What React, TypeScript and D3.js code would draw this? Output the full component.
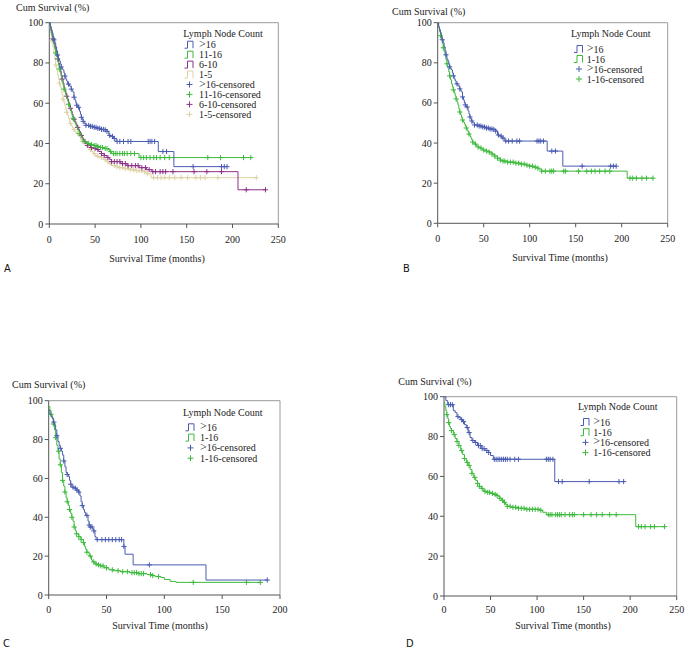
import React from "react";
import * as d3 from "d3";

type Pt = [number, number];

// ---------- Panel A (>16, 11-16, 6-10, 1-5) ----------
const aBlue: Pt[] = [[0,100],[1,98],[2,96.5],[3,95],[4,93],[5,91.5],[6,90],[7,88],[8,86],[9,84],[10,82],[11,81],[12,79.5],[13,78],[14,77],[15,76.5],[16,75],[17,73.5],[18,72],[19,71],[20,69.5],[22,68.5],[24,67],[25,66],[26,65.5],[27,63],[28,61.5],[29,60],[30,59],[31,58],[33,56],[34,54.5],[35,53],[36,52],[37,51],[38,50],[40,49],[44,48.5],[48,48],[52,47.5],[56,47],[60,46.8],[63,46],[65,44],[67,43.5],[70,42.5],[73,41],[119,36],[136,28.5]];
const aBlueCens = [5,9,13,17,21,24,27,30,32,35,37,40,43,45,47,49,51,53,55,57,59,61,63,66,69,71,74,77,81,86,89,108,110,112,115,124,128,157,188,191,194];
const aGreen: Pt[] = [[0,100],[1,97],[2,95],[3,93],[4,91],[5,89],[6,87],[7,85],[8,83],[9,81],[10,79],[11,77],[12,75],[13,73],[14,71],[15,69],[16,67],[17,65.5],[18,64],[19,62.5],[20,61],[21,59.5],[22,58],[23,56.5],[24,55],[25,53.5],[26,52.5],[27,51],[28,50],[29,49],[30,48],[31,47],[32,46],[33,45],[34,44],[35,43],[36,42],[37,41.5],[38,41],[40,40.5],[42,40],[45,39.5],[48,39],[52,38.5],[56,38],[60,37.5],[64,37],[66,36],[68,35],[98,33]];
const aGreenCens = [7,11,16,21,26,33,38,43,46,49,51,53,56,58,61,63,67,70,72,74,77,80,82,85,89,93,100,103,106,110,114,117,121,126,131,173,187,212,220];
const aPurple: Pt[] = [[0,100],[1,98],[2,96],[3,94],[4,92],[5,90],[6,88],[7,86],[8,84],[9,82],[10,80],[11,78],[12,76],[13,74],[14,72],[15,70],[16,68],[17,66.5],[18,65],[19,63.5],[20,62],[21,60.5],[22,59],[23,57.5],[24,56],[25,54.5],[26,53],[27,52],[28,51],[29,50],[30,49],[31,48],[32,47],[33,46],[34,45],[35,44],[36,43],[37,42],[38,41],[40,40],[42,39],[45,38],[48,37.5],[51,37],[54,36],[57,35],[60,34],[63,33],[66,32],[68,31],[78,30],[85,29],[98,28],[106,27],[112,26],[206,17]];
const aPurpleCens = [4,9,14,19,23,27,31,35,39,42,46,50,53,57,60,64,68,71,74,77,80,83,86,90,94,97,101,105,109,113,116,121,124,127,135,158,172,188,215,236];
const aTan: Pt[] = [[0,100],[1,97],[2,94],[3,91],[4,88],[5,85],[6,82],[7,79],[8,76.5],[9,74],[10,72],[11,70],[12,68],[13,66],[14,64],[15,62],[16,60.5],[17,59],[18,57],[19,55.5],[20,54],[21,52.5],[22,51],[23,50],[24,49],[25,48],[26,47.5],[27,47],[28,46],[29,45.5],[30,45],[32,43.5],[34,42],[36,41],[38,40],[40,39],[42,38],[44,37],[46,36],[48,35],[50,34],[53,33.5],[56,33],[59,32],[62,31],[65,30],[68,29],[72,28.5],[76,28],[82,27.5],[88,27],[95,26.5],[102,26],[107,25],[111,23]];
const aTanCens = [3,7,11,15,19,23,27,31,36,41,45,49,53,57,61,64,67,71,74,77,80,83,86,89,92,95,98,101,104,107,114,118,122,126,131,137,144,151,160,165,170,184,226];

// ---------- Panel B (>16 vs 1-16) ----------
const bBlue: Pt[] = aBlue;
const bBlueCens = aBlueCens;
const bGreen: Pt[] = [[0,100],[1,97.5],[2,95.5],[3,93.5],[4,91.5],[5,89.5],[6,87.5],[7,85.5],[8,83.5],[9,81.5],[10,79.5],[11,77.5],[12,75.5],[13,73.5],[14,71.5],[15,69.5],[16,68],[17,66.5],[18,65],[19,63.5],[20,62],[21,60.5],[22,59],[23,57],[24,55.5],[25,54],[26,52.5],[27,51.5],[28,50.5],[29,49.5],[30,48.5],[31,47.5],[32,46.5],[33,45.5],[34,44.5],[35,43.5],[36,42.5],[37,41.5],[38,40.5],[39,40],[40,39.5],[42,38.5],[44,38],[46,37.5],[48,37],[50,36.5],[53,36],[56,35.5],[59,34.5],[62,33.5],[65,32.5],[68,31.5],[70,31],[76,30.5],[84,30],[90,29.5],[96,29],[100,28.5],[104,28],[108,27.5],[110,27],[113,26],[206,22.5]];
const bGreenCens = [3,6,10,13,17,20,24,27,31,34,38,41,44,47,50,53,56,59,62,65,68,71,73,76,79,82,85,88,91,94,97,100,103,106,109,113,117,122,124,126,137,139,153,162,167,171,176,182,187,209,212,216,222,227,234];

// ---------- Panel C ----------
const cBlue: Pt[] = [[0,95],[1,93],[2,92],[3,91],[4,89],[5,87.5],[6,85],[7,82],[8,79],[9,77],[10,75.5],[11,74],[12,72],[13,69],[14,66],[15,63],[16,62],[17,61],[18,59],[19,57],[20,55.5],[22,55],[24,54],[26,53],[27,51],[28,48],[29,46],[30,44],[31,42.5],[32,41],[34,38],[35,36],[36,35],[38,34],[39,33],[40,30],[41,28.5],[65,25],[66,21],[73,15.5],[136,7.7]];
const cBlueCens = [4.5,7,10,13,16,19,21,23,24.5,26,29,33,35,36,37.5,39,42,46,49,52,55,58,61,63,65,87,189];
const cGreen: Pt[] = [[0,97],[1,95],[2,93],[3,91],[4,88],[5,85],[6,81],[7,77],[8,74],[9,70],[10,67],[11,63],[12,59],[13,56],[14,53],[15,50],[16,48],[17,46],[18,44],[19,42],[20,40],[21,38],[22,35],[23,33],[24,31.5],[26,30],[28,28.5],[30,27],[31,25],[32,23.5],[33,22],[35,20],[37,18],[38,17],[40,16],[42,15.5],[45,15],[48,14],[52,13],[56,12.5],[62,12],[70,11.5],[78,11],[85,10.5],[90,10],[92,9.5],[97,9],[100,8],[105,7],[110,6.5]];
const cGreenCens = [2,4,6,8.5,10,12,14,16,18,20,22,24,26,28,30,33,36,39,41,43,45,47,50,55,60,64,68,72,74,76,78,80,82,88,90,95,125,171,183];

// ---------- Panel D ----------
const dBlue: Pt[] = [[0,100],[2,98],[4,96],[10,93],[12,92],[14,90],[16,89.5],[18,88.5],[20,87.5],[22,86],[24,84.5],[26,82],[28,79.5],[30,78],[33,77],[36,75.5],[40,74],[44,73],[48,72],[50,70.5],[53,68.6],[119,57.4]];
const dBlueCens = [5,7,9,15,19,21,25,27,31,34,37,39,41,43,46,48,54,56,58,60,62,64,66,68,71,76,80,110,112,114,117,123,127,156,188,193];
const dGreen: Pt[] = [[0,97],[1,95],[2,93],[3,91],[4,89],[5,87],[6,85],[7,84],[8,83],[10,81],[12,79],[14,77.5],[16,75.5],[18,73],[20,71],[22,69],[24,67],[26,65.5],[28,63.5],[30,61.5],[32,59.5],[34,58],[36,56.5],[38,55],[40,54],[42,53],[44,52.5],[47,52],[50,51.5],[53,51],[56,50.5],[58,50],[60,49],[62,48],[64,47],[66,46],[68,45],[72,44.5],[80,44],[88,43.5],[104,43],[106,42],[110,40.8],[206,34.8]];
const dGreenCens = [3,5,8,11,14,16,19,22,25,27,30,33,36,38,41,44,47,49,52,55,57,60,63,65,68,71,74,77,80,83,86,89,92,95,98,101,104,112,114,116,120,122,124,126,130,135,138,140,150,158,164,170,178,185,209,212,216,222,226,237];

// ---------- Labels / ticks ----------
const xTicks250 = [0, 50, 100, 150, 200, 250];
const xTicks200 = [0, 50, 100, 150, 200];
const yTicks = [0, 20, 40, 60, 80, 100];
const legendTitle = "Lymph Node Count";
// [prefix symbol, rest]
const groupsA: [string, string][] = [[">", "16"], ["", "11-16"], ["", "6-10"], ["", "1-5"]];
const groupsTwo: [string, string][] = [[">", "16"], ["", "1-16"]];
const yTitle = "Cum Survival (%)";
const xTitle = "Survival Time (months)";

const BLUE = "#4a5cb0";
const GREEN = "#3dba3d";
const PURPLE = "#8c3288";
const TAN = "#ddd2a4";

const SERIF = "'Liberation Serif', 'Times New Roman', serif";

interface Series { curve: Pt[]; cens: number[]; color: string; }
interface PanelProps {
  left: number; top: number; right: number; bottom: number; xMax: number; xTicks: number[];
  series: Series[]; groups: [string, string][];
  yTitleX: number; yTitleY: number; xTitleX: number; xTitleY: number; tickLabelDy: number;
  letter: string; letterX: number; letterY: number;
  legX: number; legTitleY: number; legFirstY: number; legStep: number; legSymX: number; legTextX: number;
}

function survAt(curve: Pt[], t: number): number {
  let s = curve[0][1];
  for (const [tt, v] of curve) { if (tt <= t) s = v; else break; }
  return s;
}

function Plus({ x, y, color, r = 2.6 }: { x: number; y: number; color: string; r?: number }) {
  return <path d={`M${x - r},${y}H${x + r}M${x},${y - r}V${y + r}`} stroke={color} strokeWidth={1} fill="none" />;
}

function Label({ x, y, g, suffix }: { x: number; y: number; g: [string, string]; suffix: string }) {
  return (
    <text x={x} y={y} fontSize={10} fontFamily={SERIF} fill="#222">
      {g[0] ? <tspan fontSize={12} dy={-0.5}>{g[0]}</tspan> : null}
      <tspan dy={g[0] ? 0.5 : 0}>{g[1] + suffix}</tspan>
    </text>
  );
}

function Panel(p: PanelProps) {
  const x = d3.scaleLinear().domain([0, p.xMax]).range([p.left, p.right]);
  const y = d3.scaleLinear().domain([0, 100]).range([p.bottom, p.top]);
  const line = d3.line<Pt>().x(d => x(d[0])).y(d => y(d[1])).curve(d3.curveStepAfter);
  return (
    <g>
      <path d={`M${p.left},${p.top}H${p.right}V${p.bottom}`} stroke="#9a9a9a" strokeWidth={1} fill="none" />
      <path d={`M${p.left},${p.top}V${p.bottom}H${p.right}`} stroke="#555" strokeWidth={1} fill="none" />
      {yTicks.map(t => (
        <g key={"y" + t}>
          <line x1={p.left - 4} x2={p.left} y1={y(t)} y2={y(t)} stroke="#555" />
          <text x={p.left - 6} y={y(t) + 3.5} textAnchor="end" fontSize={10} fontFamily={SERIF} fill="#222">{t}</text>
        </g>
      ))}
      {p.xTicks.map(t => (
        <g key={"x" + t}>
          <line x1={x(t)} x2={x(t)} y1={p.bottom} y2={p.bottom + 4} stroke="#555" />
          <text x={x(t)} y={p.bottom + p.tickLabelDy} textAnchor="middle" fontSize={10} fontFamily={SERIF} fill="#222">{t}</text>
        </g>
      ))}
      <text x={p.yTitleX} y={p.yTitleY} fontSize={10} fontFamily={SERIF} fill="#222">{yTitle}</text>
      <text x={p.xTitleX} y={p.xTitleY} textAnchor="middle" fontSize={10} fontFamily={SERIF} fill="#222">{xTitle}</text>
      <text x={p.letterX} y={p.letterY} fontSize={11} fontFamily="'DejaVu Sans Condensed', 'Liberation Sans Narrow', 'DejaVu Sans', sans-serif" fontStretch="condensed" fill="#111">{p.letter}</text>
      {[...p.series].reverse().map((s, i) => {
        const lastT = Math.max(s.curve[s.curve.length - 1][0], d3.max(s.cens) ?? 0);
        const pts: Pt[] = [...s.curve, [lastT, s.curve[s.curve.length - 1][1]]];
        return (
          <g key={"s" + i}>
            <path d={line(pts) ?? ""} stroke={s.color} strokeWidth={1} fill="none" />
            {s.cens.map((c, j) => <Plus key={j} x={x(c)} y={y(survAt(s.curve, c))} color={s.color} />)}
          </g>
        );
      })}
      <text x={p.legX} y={p.legTitleY} fontSize={10} fontFamily={SERIF} fill="#222">{legendTitle}</text>
      {p.groups.map((g, i) => {
        const cy = p.legFirstY + i * p.legStep;
        const sx = p.legSymX;
        return (
          <g key={"lg" + i}>
            <path d={`M${sx},${cy + 3.5}H${sx + 3}V${cy - 3.5}H${sx + 8.5}V${cy + 3.5}`} stroke={p.series[i].color} strokeWidth={1} fill="none" />
            <Label x={p.legTextX} y={cy + 3.5} g={g} suffix="" />
          </g>
        );
      })}
      {p.groups.map((g, i) => {
        const cy = p.legFirstY + (p.groups.length + i) * p.legStep;
        return (
          <g key={"lc" + i}>
            <Plus x={p.legSymX + 5} y={cy} color={p.series[i].color} r={3} />
            <Label x={p.legTextX} y={cy + 3.5} g={g} suffix="-censored" />
          </g>
        );
      })}
    </g>
  );
}

export default function App() {
  return (
    <svg width={689} height={651} style={{ position: "absolute", left: 0, top: 0, display: "block", background: "#fff" }}>
      <rect width={689} height={651} fill="#fff" />
      <Panel left={49.3} top={22.7} right={278.3} bottom={224} xMax={250} xTicks={xTicks250}
        series={[{ curve: aBlue, cens: aBlueCens, color: BLUE }, { curve: aGreen, cens: aGreenCens, color: GREEN },
          { curve: aPurple, cens: aPurpleCens, color: PURPLE }, { curve: aTan, cens: aTanCens, color: TAN }]}
        groups={groupsA} yTitleX={16} yTitleY={10.8} xTitleX={157} xTitleY={261.5} tickLabelDy={19}
        letter="A" letterX={4} letterY={272}
        legX={183.3} legTitleY={36.5} legFirstY={44.7} legStep={9.95} legSymX={184.5} legTextX={199} />
      <Panel left={437.7} top={22.7} right={667.7} bottom={223.3} xMax={250} xTicks={xTicks250}
        series={[{ curve: bBlue, cens: bBlueCens, color: BLUE }, { curve: bGreen, cens: bGreenCens, color: GREEN }]}
        groups={groupsTwo} yTitleX={392} yTitleY={14.5} xTitleX={560} xTitleY={261} tickLabelDy={19}
        letter="B" letterX={403} letterY={272}
        legX={571} legTitleY={36.5} legFirstY={49} legStep={10} legSymX={574} legTextX={586.7} />
      <Panel left={48.7} top={400.7} right={280} bottom={595} xMax={200} xTicks={xTicks200}
        series={[{ curve: cBlue, cens: cBlueCens, color: BLUE }, { curve: cGreen, cens: cGreenCens, color: GREEN }]}
        groups={groupsTwo} yTitleX={12} yTitleY={387.5} xTitleX={160} xTitleY={628.5} tickLabelDy={17.5}
        letter="C" letterX={3} letterY={647}
        legX={183} legTitleY={415.5} legFirstY={427.3} legStep={10.3} legSymX={185.5} legTextX={200} />
      <Panel left={444} top={396.7} right={676.7} bottom={596} xMax={250} xTicks={xTicks250}
        series={[{ curve: dBlue, cens: dBlueCens, color: BLUE }, { curve: dGreen, cens: dGreenCens, color: GREEN }]}
        groups={groupsTwo} yTitleX={398.3} yTitleY={384.5} xTitleX={563} xTitleY={628.5} tickLabelDy={16.5}
        letter="D" letterX={406} letterY={647}
        legX={578} legTitleY={410.2} legFirstY={422} legStep={10.2} legSymX={580.5} legTextX={593.3} />
    </svg>
  );
}
